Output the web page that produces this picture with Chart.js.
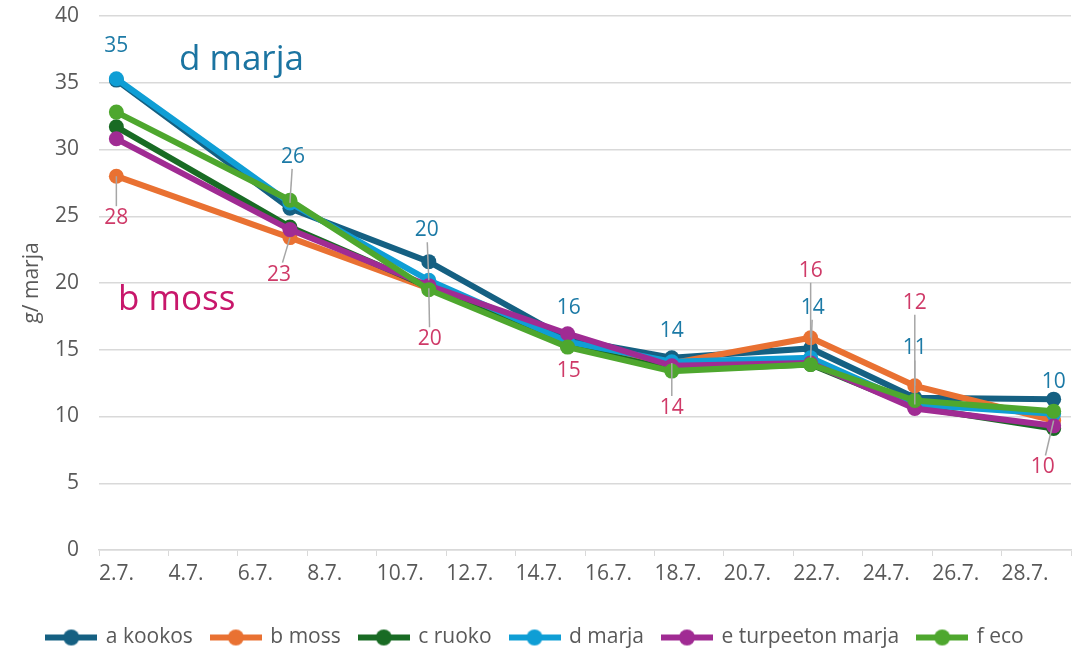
<!DOCTYPE html>
<html>
<head>
<meta charset="utf-8">
<script src="https://cdn.jsdelivr.net/npm/chart.js@4/dist/chart.umd.min.js"></script>
<style>
  body { margin: 0; background: #fff; }
  #wrap { width: 1079px; height: 650px; }
</style>
</head>
<body>
<div id="wrap"><canvas id="chart" width="1079" height="650"></canvas></div>
<script>
// päivät (heinäkuu)
const days = [2, 7, 11, 15, 18, 22, 25, 29];

const seriesNames = ['a kookos', 'b moss', 'c ruoko', 'd marja', 'e turpeeton marja', 'f eco'];
const kookos = [35.2, 25.6, 21.6, 15.8, 14.4, 15.1, 11.4, 11.3];
const moss = [28.0, 23.4, 19.6, 15.3, 14.0, 15.9, 12.3, 9.7];
const ruoko = [31.7, 24.2, 19.7, 15.3, 13.5, 13.9, 10.7, 9.1];
const marja = [35.3, 26.0, 20.2, 15.6, 14.1, 14.4, 10.9, 10.2];
const turpeeton = [30.8, 24.0, 19.8, 16.2, 13.8, 14.0, 10.6, 9.3];
const eco = [32.8, 26.2, 19.5, 15.2, 13.4, 13.9, 11.2, 10.4];

const colors = ['#156082', '#e97132', '#196b24', '#0f9ed5', '#a02b93', '#4ea72e'];
const FONT = '"Open Sans", sans-serif';

// arvolappujen siirrot (px) pisteestä, true = viiva pisteeseen
const marjaLabelPos = [[0, -33, false], [3, -46, true], [-2, -50, true], [1, -34, false], [0, -31, false], [2, -50, true], [0, -56, true], [0, -32, false]];
const mossLabelPos = [[0, 42, true], [-11, 37, true], [1, 51, true], [1, 25, false], [0, 45, true], [0, -67, true], [0, -83, true], [-11, 47, true]];

function makeIcon(color) {
  const c = document.createElement('canvas');
  c.width = 52; c.height = 18;
  const ctx = c.getContext('2d');
  ctx.strokeStyle = color;
  ctx.lineWidth = 6;
  ctx.beginPath();
  ctx.moveTo(0, 9); ctx.lineTo(52, 9);
  ctx.stroke();
  ctx.fillStyle = color;
  ctx.beginPath();
  ctx.arc(26, 9, 8, 0, Math.PI * 2);
  ctx.fill();
  return c;
}
const icons = colors.map(makeIcon);

const allSeries = [kookos, moss, ruoko, marja, turpeeton, eco];
const datasets = allSeries.map((vals, i) => ({
  label: seriesNames[i],
  data: vals.map((v, k) => ({ x: days[k] + 0.5, y: v })),
  borderColor: colors[i],
  backgroundColor: colors[i],
  borderWidth: 6,
  pointRadius: 7.5,
  pointHoverRadius: 7.5,
  pointBorderWidth: 0,
  tension: 0,
  order: allSeries.length - i
}));

const valueLabels = {
  id: 'valueLabels',
  afterDatasetsDraw(chart) {
    const ctx = chart.ctx;
    const draw = (dsIndex, positions, color) => {
      const meta = chart.getDatasetMeta(dsIndex);
      meta.data.forEach((pt, i) => {
        const [dx, dy, leader] = positions[i];
        const lx = pt.x + dx, ly = pt.y + dy;
        if (leader) {
          const dirY = Math.sign(-dy);
          const sy = ly + dirY * 12;
          const t = (sy - ly) / (pt.y - ly);
          const sx = lx + (pt.x - lx) * t;
          ctx.save();
          ctx.strokeStyle = '#a6a6a6';
          ctx.lineWidth = 1.5;
          ctx.beginPath();
          ctx.moveTo(sx, sy);
          ctx.lineTo(pt.x, pt.y);
          ctx.stroke();
          ctx.restore();
        }
        ctx.save();
        ctx.font = '21px ' + FONT;
        ctx.fillStyle = color;
        ctx.textAlign = 'center';
        ctx.textBaseline = 'middle';
        ctx.fillText(String(Math.round(allSeries[dsIndex][i])), lx, ly);
        ctx.restore();
      });
    };
    draw(3, marjaLabelPos, '#1c7aa6');
    draw(1, mossLabelPos, '#cf3a68');

    // otsikot kuvaan
    ctx.save();
    ctx.font = '35px ' + FONT;
    ctx.textBaseline = 'middle';
    ctx.textAlign = 'left';
    ctx.fillStyle = '#1b74a1';
    ctx.fillText('d marja', chart.chartArea.left + 80, 60);
    ctx.fillStyle = '#c8176b';
    ctx.fillText('b moss', chart.chartArea.left + 19, 300);
    ctx.restore();
  }
};

new Chart(document.getElementById('chart'), {
  type: 'line',
  data: { datasets },
  plugins: [valueLabels],
  options: {
    responsive: false,
    devicePixelRatio: 1,
    animation: false,
    layout: { padding: { top: 16, right: 8, left: 0, bottom: -8 } },
    plugins: {
      tooltip: { enabled: false },
      legend: {
        position: 'bottom',
        labels: {
          usePointStyle: true,
          pointStyleWidth: 48,
          padding: 19,
          color: '#595959',
          font: { size: 21, family: FONT },
          generateLabels: chart => Chart.defaults.plugins.legend.labels.generateLabels(chart)
            .map(item => Object.assign(item, { pointStyle: icons[item.datasetIndex] }))
            .sort((a, b) => a.datasetIndex - b.datasetIndex)
        }
      }
    },
    scales: {
      x: {
        type: 'linear',
        min: 2,
        max: 30,
        ticks: {
          stepSize: 2,
          align: 'start',
          color: '#595959',
          font: { size: 21, family: FONT },
          padding: 5,
          maxRotation: 0,
          autoSkip: false,
          callback: v => (v >= 30 ? '' : v + '.7.')
        },
        grid: { drawOnChartArea: false, drawTicks: true, tickLength: 6, color: '#d9d9d9' },
        border: { color: '#d9d9d9', width: 1.5 },
        afterFit: scale => { scale.height = 58; scale.paddingLeft = 0; scale.paddingRight = 0; }
      },
      y: {
        min: 0,
        max: 40,
        ticks: {
          stepSize: 5,
          color: '#595959',
          font: { size: 21, family: FONT },
          padding: 20
        },
        grid: { color: '#d9d9d9', lineWidth: 1.5, drawTicks: false },
        border: { display: false },
        title: {
          display: true,
          text: 'g/ marja',
          color: '#595959',
          font: { size: 21, family: FONT },
          padding: { top: 19, bottom: 0 }
        },
        afterFit: scale => { scale.width = 99; scale.paddingTop = 0; scale.paddingBottom = 0; }
      }
    }
  }
});
</script>
</body>
</html>
